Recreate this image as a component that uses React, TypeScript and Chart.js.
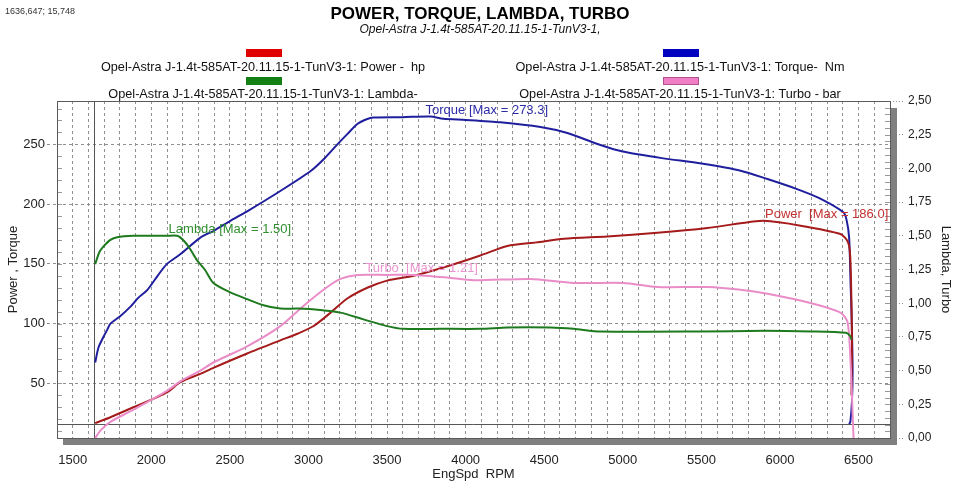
import React, { useEffect, useRef } from 'react';
import { Chart, registerables } from 'chart.js';

Chart.register(...registerables);

// ---------- data ----------
const TORQUE_RPM = [1643, 1664, 1696, 1720, 1740, 1800, 1866, 1920, 1974, 2040, 2100, 2184, 2312, 2395, 2503, 2610, 2821, 3012, 3100, 3184, 3250, 3311, 3370, 3413, 3600, 3776, 3858, 4000, 4221, 4476, 4647, 4858, 5000, 5250, 5500, 5750, 5920, 6100, 6250, 6405, 6425, 6440, 6450, 6457, 6462, 6458, 6448, 6440];
const TORQUE_NM = [67.5, 80, 89, 95, 100, 106, 114, 122, 128, 140, 150, 158, 172, 177.5, 186, 194, 211, 227.5, 238, 250, 259, 267, 271, 272.5, 272.8, 273.3, 271.5, 270.5, 268.5, 264.5, 259.5, 249.5, 244, 238.5, 234, 228, 221, 213, 205, 193, 186, 172, 130, 100, 60, 35, 18, 16];

const POWER_RPM = [1643, 1740, 1886, 2100, 2184, 2312, 2395, 2610, 2821, 2929, 3033, 3139, 3247, 3374, 3500, 3669, 3884, 4094, 4265, 4450, 4625, 4900, 5220, 5538, 5750, 5896, 6131, 6385, 6430, 6445, 6452, 6458, 6455];
const POWER_HP = [16.7, 21.7, 30, 42.5, 51, 58, 63, 75, 86, 91.5, 98, 109, 121, 130, 136, 140, 148, 157, 165, 168, 171, 173, 176, 180, 184, 186.0, 182, 175, 169, 160, 136, 86, 40];

const LAMBDA_RPM = [1643, 1670, 1695, 1740, 1783, 1886, 2000, 2100, 2165, 2210, 2248, 2290, 2340, 2395, 2503, 2610, 2714, 2821, 2929, 3075, 3203, 3350, 3500, 3605, 3840, 4094, 4265, 4540, 4687, 4858, 5500, 5900, 6200, 6420, 6445, 6455];
const LAMBDA_VAL = [1.29, 1.38, 1.42, 1.47, 1.49, 1.5, 1.5, 1.5, 1.5, 1.46, 1.4, 1.32, 1.25, 1.15, 1.08, 1.03, 0.985, 0.96, 0.96, 0.95, 0.93, 0.88, 0.83, 0.81, 0.81, 0.81, 0.82, 0.82, 0.81, 0.79, 0.79, 0.795, 0.79, 0.78, 0.76, 0.73];

const TURBO_RPM = [1643, 1680, 1740, 1886, 2100, 2184, 2312, 2395, 2610, 2821, 2968, 3096, 3203, 3311, 3500, 3669, 3884, 4052, 4412, 4687, 5005, 5220, 5538, 5750, 5920, 6200, 6385, 6430, 6449, 6462, 6468];
const TURBO_BAR = [0.0, 0.06, 0.12, 0.21, 0.35, 0.42, 0.5, 0.56, 0.68, 0.83, 0.98, 1.1, 1.18, 1.21, 1.21, 1.21, 1.19, 1.17, 1.18, 1.15, 1.15, 1.12, 1.12, 1.1, 1.07, 1.0, 0.93, 0.86, 0.56, 0.19, 0.0];

const X_TICK_LABELS = [1500, 2000, 2500, 3000, 3500, 4000, 4500, 5000, 5500, 6000, 6500];
const LEFT_TICKS = [50, 100, 150, 200, 250];
const RIGHT_TICKS = [0, 0.25, 0.5, 0.75, 1.0, 1.25, 1.5, 1.75, 2.0, 2.25, 2.5];
const CURSOR = [1636.647, 15.748];

const RUN_NAME = 'Opel-Astra J-1.4t-585AT-20.11.15-1-TunV3-1';
const TITLE = 'POWER, TORQUE, LAMBDA, TURBO';
const SUBTITLE = RUN_NAME + ',';
const LEGEND_LABELS = [
  RUN_NAME + ': Power -  hp',
  RUN_NAME + ': Torque-  Nm',
  RUN_NAME + ': Lambda-',
  RUN_NAME + ': Turbo - bar',
];

const FONT = "'Liberation Sans', Arial, Helvetica, sans-serif";

const C_TORQUE = '#1f1f9e';
const C_POWER = '#a51a1a';
const C_LAMBDA = '#1e7a1e';
const C_TURBO = '#ea8cc8';
const C_GRID = '#909090';

const pts = (xs: number[], ys: number[]) => xs.map((x, i) => ({ x, y: ys[i] }));
const fmtComma = (v: number, d: number) => v.toFixed(d).replace('.', ',');

const decorPlugin = {
  id: 'decor',
  beforeDatasetsDraw(chart: any) {
    const { ctx, chartArea: a, scales } = chart;
    ctx.save();
    // minor tick columns along the inner edges
    ctx.strokeStyle = '#999';
    ctx.lineWidth = 1;
    ctx.beginPath();
    for (let v = 10; v < 286; v += 10) {
      const y = Math.round(scales.yL.getPixelForValue(v)) + 0.5;
      ctx.moveTo(a.left, y);
      ctx.lineTo(a.left + 5, y);
    }
    for (let v = 0.05; v < 2.5; v += 0.05) {
      const y = Math.round(scales.yR.getPixelForValue(v)) + 0.5;
      ctx.moveTo(a.right - 5, y);
      ctx.lineTo(a.right, y);
    }
    ctx.stroke();
    // plot frame
    ctx.strokeStyle = '#5a5a5a';
    ctx.strokeRect(Math.round(a.left) + 0.5, Math.round(a.top) + 0.5, Math.round(a.right - a.left), Math.round(a.bottom - a.top));
    // crosshair cursor
    const cx = Math.round(scales.x.getPixelForValue(CURSOR[0])) + 0.5;
    const cy = Math.round(scales.yL.getPixelForValue(CURSOR[1])) + 0.5;
    ctx.strokeStyle = '#555';
    ctx.beginPath();
    ctx.moveTo(cx, a.top);
    ctx.lineTo(cx, a.bottom);
    ctx.moveTo(a.left, cy);
    ctx.lineTo(a.right, cy);
    ctx.stroke();
    ctx.restore();
  },
  afterDraw(chart: any) {
    const { ctx, chartArea: a, scales } = chart;
    ctx.save();
    // drop shadow
    ctx.fillStyle = '#808080';
    ctx.fillRect(a.left + 6, a.bottom + 1, a.right - a.left + 1, 6);
    ctx.fillRect(a.right + 1, a.top + 7, 6, a.bottom - a.top);

    // cursor readout
    ctx.fillStyle = '#333';
    ctx.font = `9px ${FONT}`;
    ctx.textAlign = 'left';
    ctx.textBaseline = 'middle';
    ctx.fillText(`${fmtComma(CURSOR[0], 3)}; ${fmtComma(CURSOR[1], 3)}`, 5, 12);

    // title
    ctx.textAlign = 'center';
    ctx.fillStyle = '#000';
    ctx.font = `bold 17px ${FONT}`;
    ctx.fillText(TITLE, 480, 14);
    ctx.font = `italic 12px ${FONT}`;
    ctx.fillStyle = '#111';
    ctx.fillText(SUBTITLE, 480, 30);

    // legend (2 x 2)
    const cols = [263, 680];
    const barY = [49, 77];
    const textY = [67, 94];
    const barColors = ['#e00000', '#0000c0', '#128012', '#f07ec4'];
    ctx.font = `12.7px ${FONT}`;
    for (let i = 0; i < 4; i++) {
      const col = i % 2;
      const row = Math.floor(i / 2);
      const cxm = cols[col];
      ctx.fillStyle = barColors[i];
      ctx.fillRect(cxm - 17, barY[row], 36, 8);
      if (i === 3) {
        ctx.strokeStyle = '#b05090';
        ctx.strokeRect(cxm - 16.5, barY[row] + 0.5, 35, 7);
      }
      ctx.fillStyle = '#111';
      ctx.fillText(LEGEND_LABELS[i], cxm, textY[row]);
    }

    // max annotations
    const maxOf = (arr: number[]) => Math.max(...arr);
    const notes = [
      { text: `Torque [Max = ${maxOf(TORQUE_NM).toFixed(1)}]`, rpm: 3745, v: maxOf(TORQUE_NM), axis: 'yL', color: '#2c2ca8' },
      { text: `Power  [Max = ${maxOf(POWER_HP).toFixed(1)}]`, rpm: 5905, v: maxOf(POWER_HP), axis: 'yL', color: '#c43030' },
      { text: `Lambda [Max = ${maxOf(LAMBDA_VAL).toFixed(2)}]`, rpm: 2110, v: maxOf(LAMBDA_VAL), axis: 'yR', color: '#2f8f2f' },
      { text: `Turbo  [Max = ${maxOf(TURBO_BAR).toFixed(2)}]`, rpm: 3362, v: maxOf(TURBO_BAR), axis: 'yR', color: '#ec94d0' },
    ];
    ctx.font = `13px ${FONT}`;
    ctx.textAlign = 'left';
    for (const n of notes) {
      const px = scales.x.getPixelForValue(n.rpm);
      const py = scales[n.axis].getPixelForValue(n.v) - 6;
      ctx.fillStyle = n.color;
      ctx.fillText(n.text, px, py);
    }
    ctx.restore();
  },
};

export default function App() {
  const ref = useRef<HTMLCanvasElement | null>(null);

  useEffect(() => {
    if (!ref.current) return;
    const ds = (label: string, xs: number[], ys: number[], color: string, axis: string, width: number) => ({
      label,
      data: pts(xs, ys),
      borderColor: color,
      backgroundColor: color,
      borderWidth: width,
      pointRadius: 0,
      tension: 0.25,
      yAxisID: axis,
      fill: false,
    });
    const chart = new Chart(ref.current, {
      type: 'line',
      data: {
        datasets: [
          ds('Lambda', LAMBDA_RPM, LAMBDA_VAL, C_LAMBDA, 'yR', 2),
          ds('Turbo', TURBO_RPM, TURBO_BAR, C_TURBO, 'yR', 2),
          ds('Power', POWER_RPM, POWER_HP, C_POWER, 'yL', 2),
          ds('Torque', TORQUE_RPM, TORQUE_NM, C_TORQUE, 'yL', 2),
        ],
      },
      options: {
        animation: false,
        responsive: true,
        maintainAspectRatio: false,
        layout: { padding: { top: 101, left: 0, right: 0, bottom: 0 } },
        plugins: {
          legend: { display: false },
          tooltip: { enabled: false },
          title: { display: false },
        },
        scales: {
          x: {
            type: 'linear',
            min: 1400,
            max: 6700,
            border: { display: false, dash: [3, 3] },
            grid: { color: C_GRID, drawTicks: false, lineWidth: 1 },
            ticks: {
              stepSize: 100,
              autoSkip: false,
              maxRotation: 0,
              padding: 15,
              color: '#222',
              font: { family: FONT, size: 13 },
              callback: (v: any) => (X_TICK_LABELS.includes(Number(v)) ? String(v) : ''),
            },
            title: { display: true, text: 'EngSpd  RPM', color: '#222', font: { family: FONT, size: 13 }, padding: { top: 0, bottom: 3 } },
            afterFit: (s: any) => { s.height = 47; },
          },
          yL: {
            type: 'linear',
            position: 'left',
            min: 4.3,
            max: 286.3,
            border: { display: false, dash: [3, 3] },
            grid: { color: C_GRID, tickBorderDash: [3, 3], drawTicks: true, tickLength: 10, tickColor: C_GRID },
            afterBuildTicks: (s: any) => { s.ticks = LEFT_TICKS.map((v) => ({ value: v })); },
            ticks: { padding: 2, color: '#222', font: { family: FONT, size: 13 } },
            title: { display: true, text: 'Power , Torque', color: '#222', font: { family: FONT, size: 13 }, padding: { top: 6, bottom: 0 } },
            afterFit: (s: any) => { s.width = 57; },
          },
          yR: {
            type: 'linear',
            position: 'right',
            min: 0,
            max: 2.5,
            border: { display: false },
            grid: { drawOnChartArea: false, drawTicks: true, tickLength: 13, tickColor: C_GRID, tickBorderDash: [1, 2] },
            afterBuildTicks: (s: any) => { s.ticks = RIGHT_TICKS.map((v) => ({ value: v })); },
            ticks: { padding: 5, color: '#222', font: { family: FONT, size: 12 }, callback: (v: any) => fmtComma(Number(v), 2) },
            title: { display: true, text: 'Lambda, Turbo', color: '#222', font: { family: FONT, size: 13 }, padding: { top: 7, bottom: 0 } },
            afterFit: (s: any) => { s.width = 70; },
          },
        },
      } as any,
      plugins: [decorPlugin],
    });
    return () => chart.destroy();
  }, []);

  return (
    <div style={{ position: 'absolute', left: 0, top: 0, width: 960, height: 485, background: '#fff' }}>
      <canvas ref={ref} />
    </div>
  );
}
